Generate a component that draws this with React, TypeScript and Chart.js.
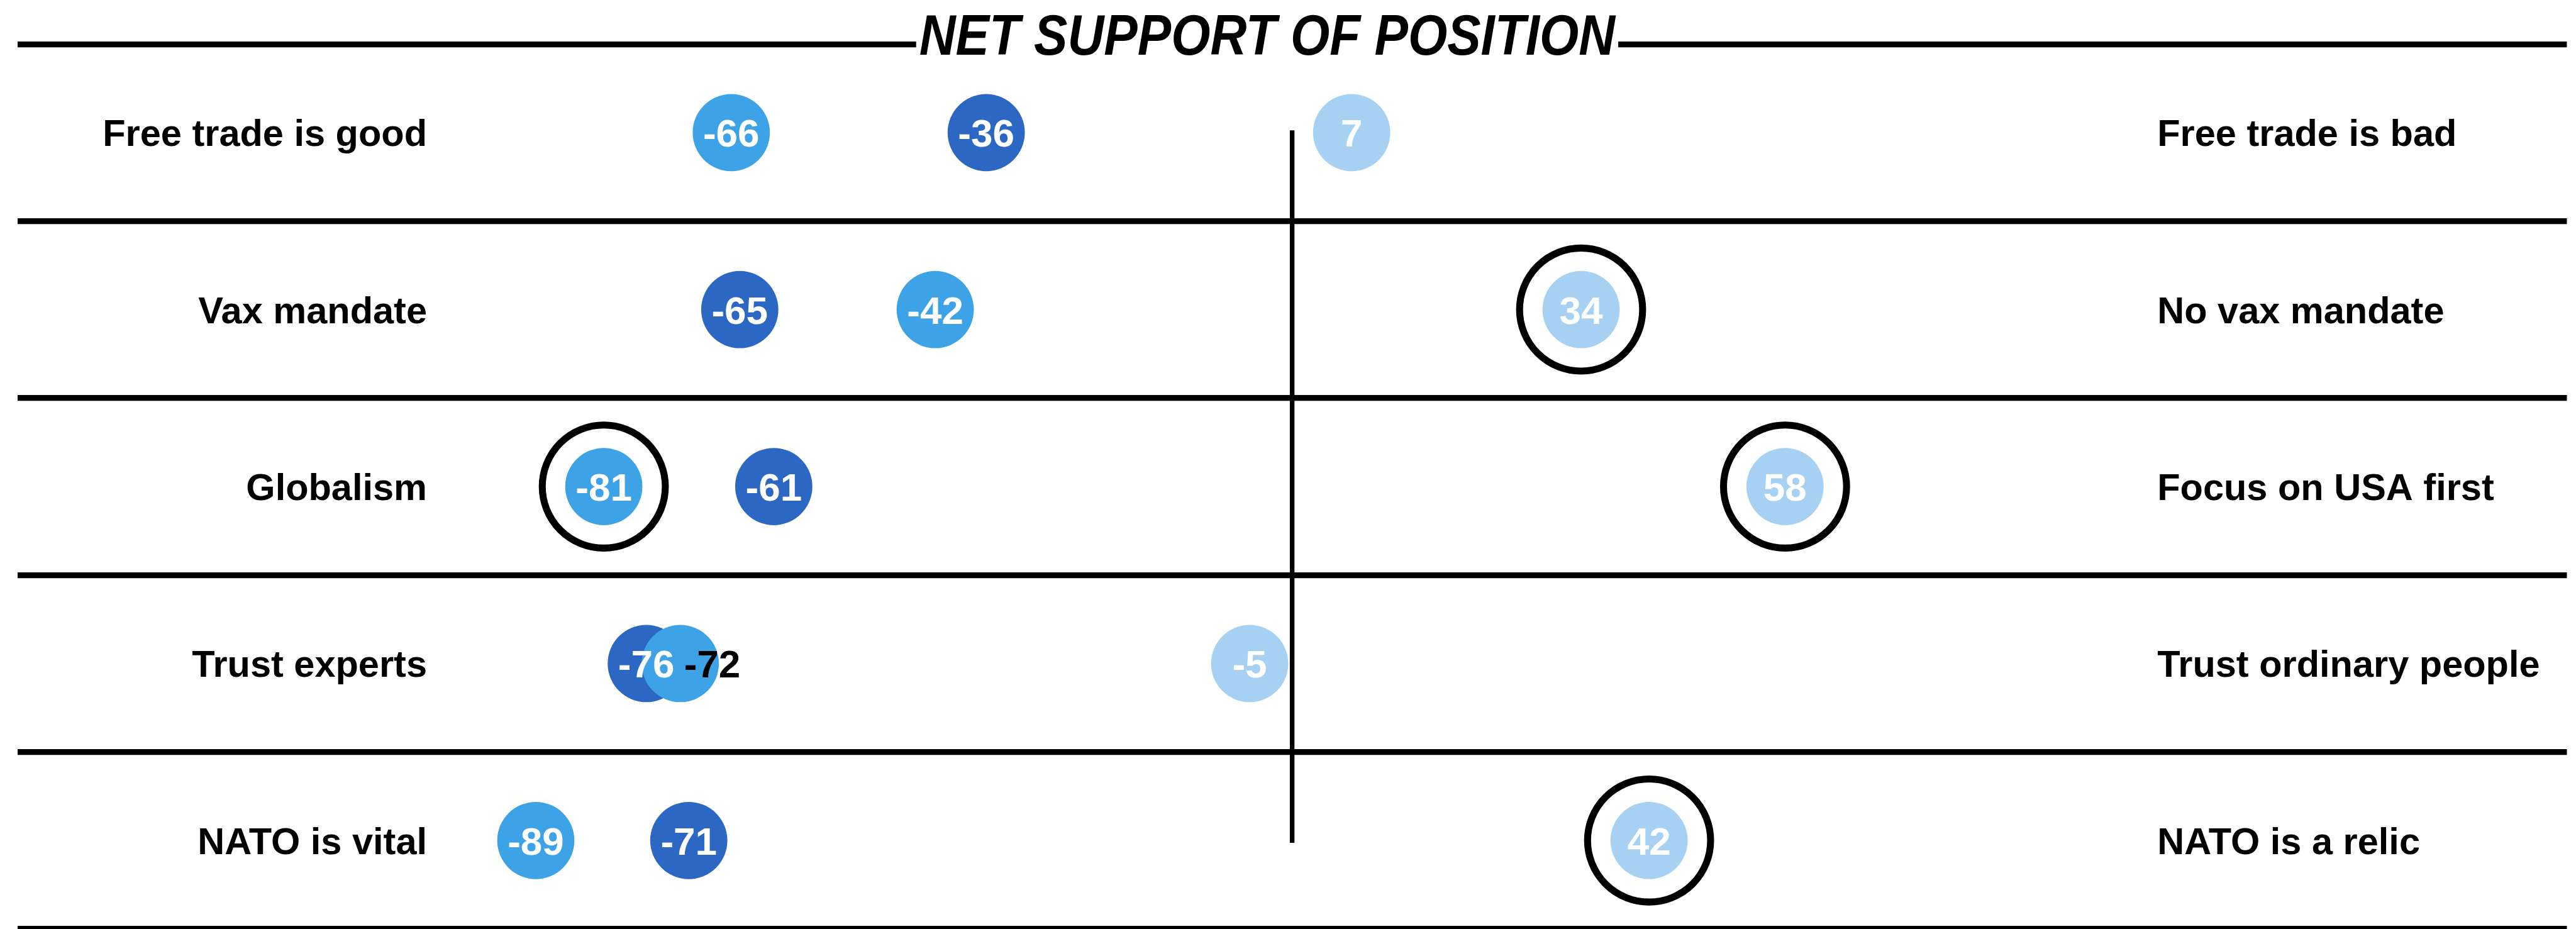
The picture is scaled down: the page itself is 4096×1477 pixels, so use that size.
import React, { useEffect, useRef } from "react";
import { Chart, registerables } from "chart.js";

Chart.register(...registerables);

// ---------- data ----------
const leftLabels = [
  "Free trade is good",
  "Vax mandate",
  "Globalism",
  "Trust experts",
  "NATO is vital",
];
const rightLabels = [
  "Free trade is bad",
  "No vax mandate",
  "Focus on USA first",
  "Trust ordinary people",
  "NATO is a relic",
];
const darkValues = [-36, -65, -61, -76, -71];
const mediumValues = [-66, -42, -81, -72, -89];
const lightValues = [7, 34, 58, -5, 42];
// highlighted (ringed) points: [row index, value]
const ringedPoints: [number, number][] = [
  [1, 34],
  [2, -81],
  [2, 58],
  [4, 42],
];
const axisMin = -150;
const axisMax = 150;
const sideLabelValue = 101.8;
const titleText = "NET SUPPORT OF POSITION";

// ---------- styles ----------
const S = 0.923;
const W = 4096;
const H = 1477;
const DARK = "#2B67C3";
const MEDIUM = "#3DA3E6";
const LIGHT = "#A7D1F3";
const FONT = '"Liberation Sans", Arial, sans-serif';
const POINT_R = 66.5 * S;
const RING_R = 106 * S;
const RING_W = 12 * S;
const GRID_W = 10 * S;
const ZERO_W = 8 * S;
const VALUE_FONT = 62;
const SIDE_FONT = 59.5;
const TITLE_FONT = 91;
const TITLE_SQUEEZE = 0.88;
const TITLE_CX = 2183 * S;
const TITLE_BASE = 94 * S;
// label of medium series in "Trust experts" row is pushed aside (overlap)
const shiftedLabel = { dataset: "medium", row: 3, dx: 55 * S, color: "#000" };

const toPoints = (vals: number[]) =>
  vals.map((v, i) => ({ x: v, y: leftLabels[i] }));

const labelsPlugin = {
  id: "customLabels",
  afterDatasetsDraw(chart: any) {
    const ctx = chart.ctx as CanvasRenderingContext2D;
    const xs = chart.scales.x;
    const ys = chart.scales.y;
    ctx.save();
    // value labels inside the circles
    chart.data.datasets.forEach((ds: any, di: number) => {
      if (!ds.showValues) return;
      const meta = chart.getDatasetMeta(di);
      meta.data.forEach((pt: any, i: number) => {
        const v = ds.data[i].x;
        let dx = 0;
        let color = "#fff";
        if (ds.key === shiftedLabel.dataset && i === shiftedLabel.row) {
          dx = shiftedLabel.dx;
          color = shiftedLabel.color;
        }
        ctx.font = `bold ${VALUE_FONT}px ${FONT}`;
        ctx.fillStyle = color;
        ctx.textAlign = "center";
        ctx.textBaseline = "alphabetic";
        ctx.fillText(String(v), pt.x + dx, pt.y + VALUE_FONT * 0.36);
      });
    });
    // side labels
    ctx.font = `bold ${SIDE_FONT}px ${FONT}`;
    ctx.fillStyle = "#000";
    ctx.textBaseline = "alphabetic";
    leftLabels.forEach((lab, i) => {
      const y = ys.getPixelForValue(i) + SIDE_FONT * 0.36;
      ctx.textAlign = "right";
      ctx.fillText(lab, xs.getPixelForValue(-sideLabelValue), y);
      ctx.textAlign = "left";
      ctx.fillText(rightLabels[i], xs.getPixelForValue(sideLabelValue), y);
    });
    ctx.restore();
  },
  afterDraw(chart: any) {
    const ctx = chart.ctx as CanvasRenderingContext2D;
    ctx.save();
    ctx.font = `italic bold ${TITLE_FONT}px ${FONT}`;
    const w = ctx.measureText(titleText).width * TITLE_SQUEEZE;
    ctx.fillStyle = "#fff";
    ctx.fillRect(TITLE_CX - w / 2 - 5, 0, w + 10, 100);
    ctx.translate(TITLE_CX, TITLE_BASE);
    ctx.scale(TITLE_SQUEEZE, 1);
    ctx.fillStyle = "#000";
    ctx.textAlign = "center";
    ctx.textBaseline = "alphabetic";
    ctx.fillText(titleText, 0, 0);
    ctx.restore();
  },
};

export default function App() {
  const canvasRef = useRef<HTMLCanvasElement | null>(null);

  useEffect(() => {
    document.body.style.margin = "0";
    document.body.style.overflow = "hidden";
    const canvas = canvasRef.current!;
    const pointDs = (key: string, label: string, vals: number[], color: string) => ({
      key,
      label,
      data: toPoints(vals),
      showLine: false,
      showValues: true,
      pointRadius: POINT_R,
      pointBackgroundColor: color,
      pointBorderWidth: 0,
      pointBorderColor: color,
      pointHoverRadius: POINT_R,
      clip: false,
    });
    const chart = new Chart(canvas, {
      type: "line",
      data: {
        datasets: [
          {
            label: "Highlighted",
            data: ringedPoints.map(([r, v]) => ({ x: v, y: leftLabels[r] })),
            showLine: false,
            pointRadius: RING_R,
            pointBackgroundColor: "rgba(0,0,0,0)",
            pointBorderColor: "#000",
            pointBorderWidth: RING_W,
            clip: false,
          } as any,
          pointDs("light", "Light", lightValues, LIGHT) as any,
          pointDs("medium", "Medium", mediumValues, MEDIUM) as any,
          pointDs("dark", "Dark", darkValues, DARK) as any,
          {
            label: "Zero",
            data: [
              { x: 0, y: leftLabels[0] },
              { x: 0, y: leftLabels[leftLabels.length - 1] },
            ],
            showLine: true,
            borderColor: "#000",
            borderWidth: ZERO_W,
            borderCapStyle: "square",
            pointRadius: 0,
            clip: false,
          } as any,
        ],
      },
      options: {
        responsive: false,
        animation: false,
        devicePixelRatio: 1,
        events: [],
        layout: {
          autoPadding: false,
          padding: { left: 30 * S, right: W - 4422 * S, top: 76 * S, bottom: H - 1601 * S },
        },
        plugins: {
          legend: { display: false },
          tooltip: { enabled: false },
          title: { display: false },
        },
        scales: {
          x: { type: "linear", min: axisMin, max: axisMax, display: false },
          y: {
            type: "category",
            labels: leftLabels,
            offset: true,
            grid: { offset: true, color: "#000", lineWidth: GRID_W, drawTicks: false },
            border: { display: false },
            ticks: { display: false },
            afterFit: (s: any) => {
              s.width = 0;
            },
          } as any,
        },
      } as any,
      plugins: [labelsPlugin],
    });
    return () => chart.destroy();
  }, []);

  return (
    <div style={{ width: W, height: H, position: "relative", background: "#fff" }}>
      <canvas ref={canvasRef} width={W} height={H} style={{ display: "block" }} />
    </div>
  );
}
